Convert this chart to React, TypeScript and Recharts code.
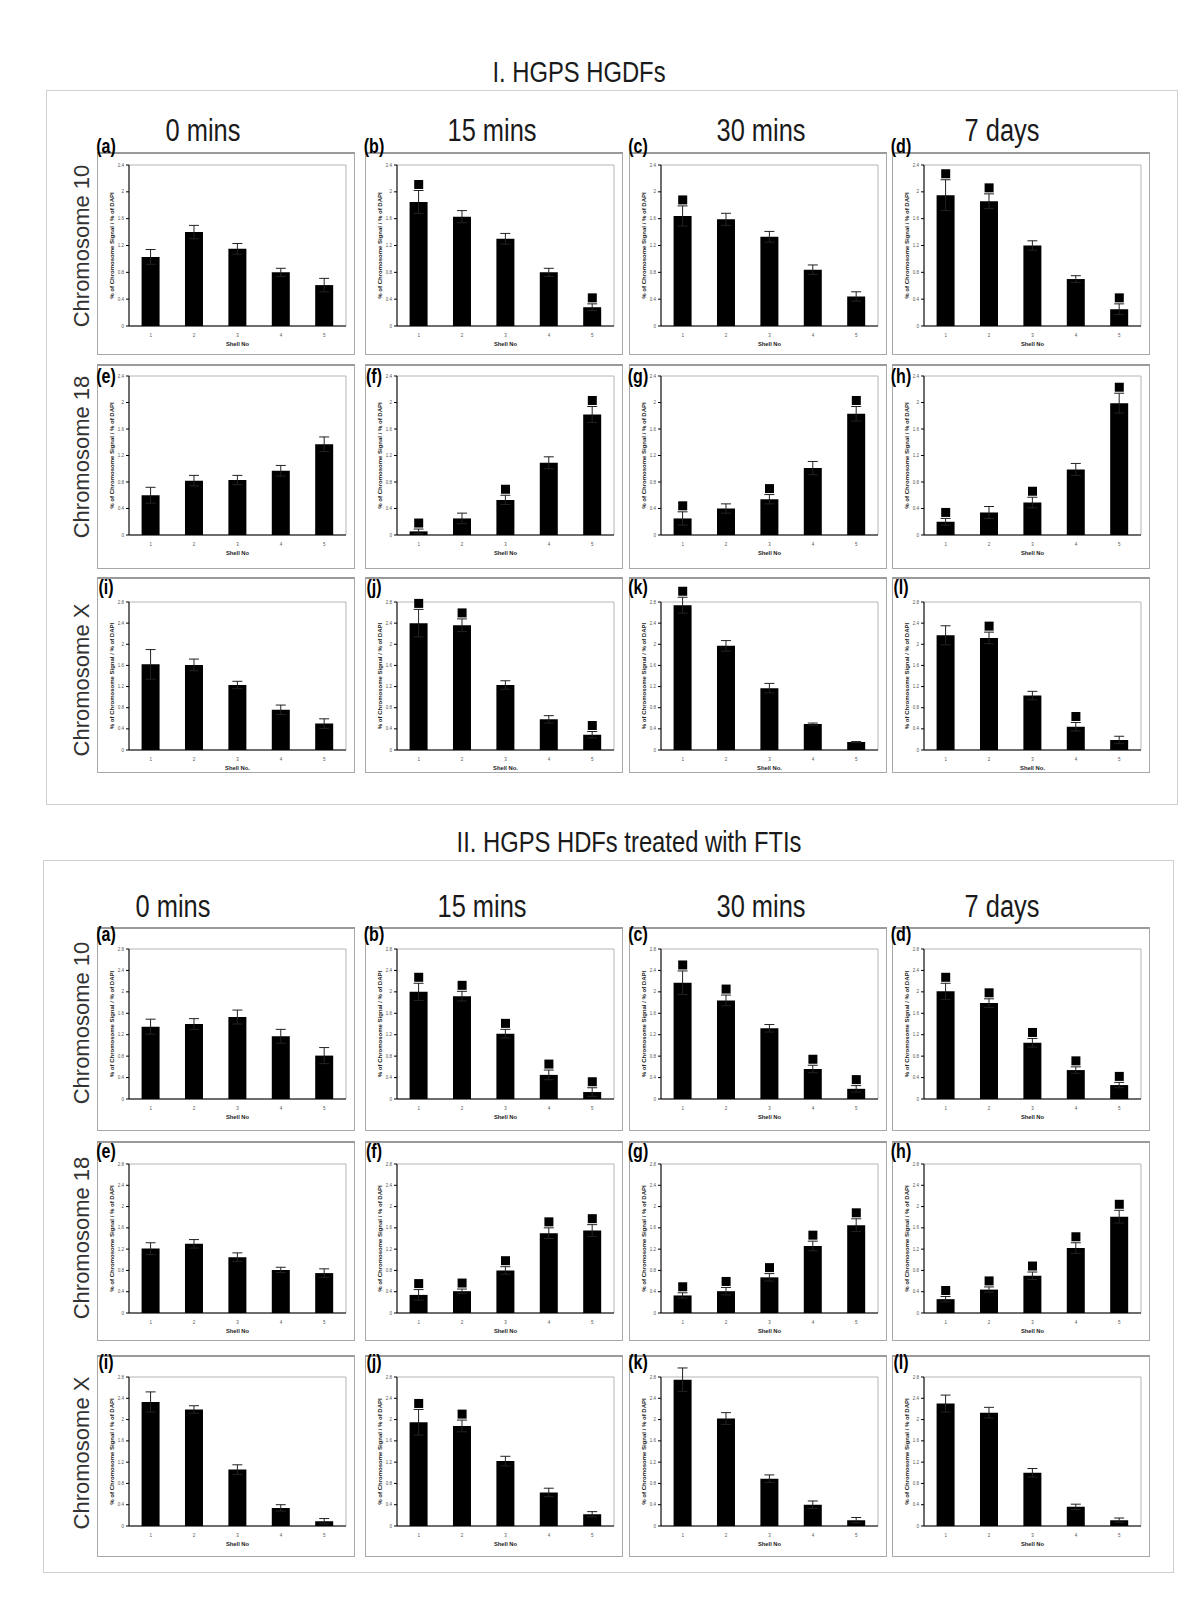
import { BarChart, Bar, XAxis, YAxis, ErrorBar, ReferenceDot, ReferenceArea } from "recharts";

const shells = ["1", "2", "3", "4", "5"];
const timepoints = ["0 mins", "15 mins", "30 mins", "7 days"];
const chromosomes = ["Chromosome 10", "Chromosome 18", "Chromosome X"];
const letters = ["(a)", "(b)", "(c)", "(d)", "(e)", "(f)", "(g)", "(h)", "(i)", "(j)", "(k)", "(l)"];
const ticks24 = [0, 0.4, 0.8, 1.2, 1.6, 2, 2.4];
const ticks28 = [0, 0.4, 0.8, 1.2, 1.6, 2, 2.4, 2.8];

// I. HGPS HGDFs — one row per time point (0, 15, 30 mins, 7 days), one value per shell
const hgdfChr10Mean = [
  [1.03, 1.4, 1.15, 0.8, 0.61],
  [1.85, 1.63, 1.3, 0.8, 0.28],
  [1.64, 1.59, 1.33, 0.84, 0.44],
  [1.95, 1.86, 1.2, 0.7, 0.25],
];
const hgdfChr10Sem = [
  [0.11, 0.1, 0.08, 0.06, 0.1],
  [0.17, 0.09, 0.08, 0.06, 0.05],
  [0.15, 0.09, 0.08, 0.07, 0.07],
  [0.23, 0.11, 0.07, 0.05, 0.08],
];
const hgdfChr10Sig = [[], [1, 5], [1], [1, 2, 5]];

const hgdfChr18Mean = [
  [0.6, 0.82, 0.83, 0.97, 1.37],
  [0.055, 0.25, 0.53, 1.09, 1.82],
  [0.25, 0.4, 0.54, 1.01, 1.83],
  [0.2, 0.34, 0.49, 0.99, 1.99],
];
const hgdfChr18Sem = [
  [0.12, 0.08, 0.07, 0.08, 0.11],
  [0.035, 0.08, 0.07, 0.09, 0.12],
  [0.1, 0.07, 0.07, 0.1, 0.11],
  [0.05, 0.09, 0.08, 0.09, 0.15],
];
const hgdfChr18Sig = [[], [1, 3, 5], [1, 3, 5], [1, 3, 5]];

const hgdfChrXMean = [
  [1.62, 1.61, 1.23, 0.76, 0.5],
  [2.4, 2.36, 1.23, 0.58, 0.29],
  [2.74, 1.97, 1.17, 0.49, 0.15],
  [2.17, 2.12, 1.03, 0.44, 0.19],
];
const hgdfChrXSem = [
  [0.28, 0.11, 0.07, 0.09, 0.09],
  [0.26, 0.12, 0.08, 0.07, 0.06],
  [0.15, 0.1, 0.09, 0.02, 0.01],
  [0.18, 0.11, 0.08, 0.08, 0.07],
];
const hgdfChrXSig = [[], [1, 2, 5], [1], [2, 4]];

// II. HGPS HDFs treated with FTIs
const ftiChr10Mean = [
  [1.35, 1.4, 1.53, 1.17, 0.81],
  [2.0, 1.92, 1.22, 0.45, 0.13],
  [2.17, 1.84, 1.32, 0.56, 0.19],
  [2.01, 1.79, 1.05, 0.54, 0.26],
];
const ftiChr10Sem = [
  [0.14, 0.1, 0.13, 0.13, 0.15],
  [0.16, 0.09, 0.08, 0.09, 0.08],
  [0.22, 0.1, 0.07, 0.07, 0.06],
  [0.15, 0.08, 0.08, 0.06, 0.05],
];
const ftiChr10Sig = [[], [1, 2, 3, 4, 5], [1, 2, 4, 5], [1, 2, 3, 4, 5]];

const ftiChr18Mean = [
  [1.21, 1.3, 1.05, 0.81, 0.75],
  [0.34, 0.41, 0.8, 1.5, 1.55],
  [0.33, 0.41, 0.67, 1.26, 1.65],
  [0.26, 0.44, 0.7, 1.22, 1.81],
];
const ftiChr18Sem = [
  [0.11, 0.08, 0.08, 0.05, 0.08],
  [0.1, 0.04, 0.07, 0.1, 0.11],
  [0.05, 0.07, 0.07, 0.09, 0.12],
  [0.05, 0.05, 0.07, 0.1, 0.12],
];
const ftiChr18Sig = [[], [1, 2, 3, 4, 5], [1, 2, 3, 4, 5], [1, 2, 3, 4, 5]];

const ftiChrXMean = [
  [2.33, 2.19, 1.06, 0.34, 0.09],
  [1.95, 1.88, 1.22, 0.63, 0.22],
  [2.75, 2.02, 0.89, 0.4, 0.11],
  [2.3, 2.13, 1.0, 0.36, 0.11],
];
const ftiChrXSem = [
  [0.19, 0.07, 0.09, 0.06, 0.05],
  [0.24, 0.11, 0.09, 0.08, 0.05],
  [0.22, 0.11, 0.07, 0.07, 0.05],
  [0.16, 0.1, 0.08, 0.05, 0.04],
];
const ftiChrXSig = [[], [1, 2], [], []];

const hgdfYMax = [2.4, 2.4, 2.8];
const ftiYMax = [2.8, 2.8, 2.8];
const hgdfXTitles = ["Shell No", "Shell No", "Shell No."];
const ftiXTitles = ["Shell No", "Shell No", "Shell No"];

// layout (px on the 1200x1605 page)
const colLeft = [97, 365, 629, 892];
const BOX_W = 258;
const AXIS_H = 21;
const FONT = "'Liberation Sans', Arial, Helvetica, sans-serif";

const hgdfRowBox = [
  { top: 152, h: 203, plotTop: 13, plotH: 161, letterDy: -6 },
  { top: 364, h: 205, plotTop: 12, plotH: 159, letterDy: 12 },
  { top: 577, h: 196, plotTop: 25, plotH: 148, letterDy: 10 },
];
const ftiRowBox = [
  { top: 927, h: 204, plotTop: 22, plotH: 150, letterDy: 7 },
  { top: 1141, h: 200, plotTop: 23, plotH: 149, letterDy: 10 },
  { top: 1355, h: 202, plotTop: 22, plotH: 149, letterDy: 7 },
];

function Txt({ x, y, size, bold = false, narrow = 1, rotate = false, color = "#1a1a1a", children }: any) {
  return (
    <div
      style={{
        position: "absolute",
        left: x,
        top: y,
        fontFamily: FONT,
        fontSize: size,
        fontWeight: bold ? 700 : 400,
        color,
        whiteSpace: "nowrap",
        lineHeight: 1,
        transform: `translate(-50%, -50%)${rotate ? " rotate(-90deg)" : ""} scaleX(${narrow})`,
      }}
    >
      {children}
    </div>
  );
}

const Square = (props: any) => {
  const { cx, cy } = props;
  if (!Number.isFinite(cx) || !Number.isFinite(cy)) return null;
  return <rect x={cx - 4.5} y={cy - 10.5} width={9} height={9} fill="#000" />;
};

function Panel({ mean, sem, sig, yMax, xTitle, height, plotTop, plotH }: any) {
  const data = shells.map((shell, i) => ({ shell, mean: mean[i], sem: sem[i] }));
  const ticks = yMax > 2.4 ? ticks28 : ticks24;
  const bottom = Math.max(0, height - plotTop - plotH - AXIS_H);
  const marked = data.filter((_, i) => sig.includes(i + 1));
  return (
    <BarChart
      width={BOX_W}
      height={height}
      data={data}
      margin={{ top: plotTop, right: 9, bottom, left: 6 }}
      barCategoryGap="29%"
      style={{ fontFamily: FONT }}
    >
      <ReferenceArea y1={0} y2={yMax} fill="none" stroke="#b5b5b5" strokeWidth={1} ifOverflow="visible" />
      <XAxis
        dataKey="shell"
        height={AXIS_H}
        tickLine={false}
        tickMargin={2}
        axisLine={{ stroke: "#000", strokeWidth: 1 }}
        tick={{ fontSize: 4.5, fill: "#555" }}
        label={{ value: xTitle, position: "insideBottom", offset: 1, fontSize: 5.8, fontWeight: 700, fill: "#222" }}
      />
      <YAxis
        domain={[0, yMax]}
        ticks={ticks}
        allowDataOverflow
        interval={0}
        width={26}
        tickSize={3}
        tickMargin={2}
        axisLine={{ stroke: "#000", strokeWidth: 1 }}
        tickLine={{ stroke: "#000" }}
        tick={{ fontSize: 4.5, fill: "#555" }}
        label={{
          value: "% of Chromosome Signal / % of DAPI",
          angle: -90,
          position: "center",
          dx: -4,
          fontSize: 6,
          fontWeight: 700,
          fill: "#222",
        }}
      />
      <Bar dataKey="mean" fill="#000" isAnimationActive={false}>
        <ErrorBar dataKey="sem" direction="y" width={5} stroke="#222" strokeWidth={1} />
      </Bar>
      {marked.map((d) => (
        <ReferenceDot key={d.shell} x={d.shell} y={d.mean + d.sem} r={4} shape={Square} ifOverflow="visible" />
      ))}
    </BarChart>
  );
}

function Section({ title, titleX, titleY, frame, headerY, headerX, rowLabelY, rowBox, panels, yMax, xTitles }: any) {
  return (
    <>
      <Txt x={titleX} y={titleY} size={29} narrow={0.82}>
        {title}
      </Txt>
      <div
        style={{
          position: "absolute",
          left: frame.left,
          top: frame.top,
          width: frame.w,
          height: frame.h,
          border: "1px solid #cfcfcf",
          boxSizing: "border-box",
        }}
      />
      {timepoints.map((t, c) => (
        <Txt key={t} x={headerX[c]} y={headerY} size={31} narrow={0.82}>
          {t}
        </Txt>
      ))}
      {chromosomes.map((chr, r) => (
        <Txt key={chr} x={82} y={rowLabelY[r]} size={22} rotate color="#333">
          {chr}
        </Txt>
      ))}
      {panels.map(([mean, sem, sig]: any, r: number) =>
        timepoints.map((_, c) => {
          const g = rowBox[r];
          return (
            <div key={`${r}-${c}`}>
              <div
                style={{
                  position: "absolute",
                  left: colLeft[c],
                  top: g.top,
                  width: BOX_W,
                  height: g.h,
                  border: "1px solid #a8a8a8",
                  borderTop: "2px solid #9a9a9a",
                  boxSizing: "border-box",
                }}
              />
              <div style={{ position: "absolute", left: colLeft[c], top: g.top }}>
                <Panel
                  mean={mean[c]}
                  sem={sem[c]}
                  sig={sig[c]}
                  yMax={yMax[r]}
                  xTitle={xTitles[r]}
                  height={g.h}
                  plotTop={g.plotTop}
                  plotH={g.plotH}
                />
              </div>
              <Txt x={colLeft[c] + 9} y={g.top + g.letterDy} size={20} bold narrow={0.8} color="#000">
                {letters[r * 4 + c]}
              </Txt>
            </div>
          );
        })
      )}
    </>
  );
}

export default function App() {
  return (
    <div style={{ position: "absolute", left: 0, top: 0, width: 1200, height: 1605, background: "#fff", overflow: "hidden" }}>
      <Section
        title="I. HGPS HGDFs"
        titleX={579}
        titleY={72}
        frame={{ left: 46, top: 90, w: 1132, h: 715 }}
        headerY={130}
        headerX={[203, 492, 761, 1002]}
        rowLabelY={[246, 457, 680]}
        rowBox={hgdfRowBox}
        yMax={hgdfYMax}
        xTitles={hgdfXTitles}
        panels={[
          [hgdfChr10Mean, hgdfChr10Sem, hgdfChr10Sig],
          [hgdfChr18Mean, hgdfChr18Sem, hgdfChr18Sig],
          [hgdfChrXMean, hgdfChrXSem, hgdfChrXSig],
        ]}
      />
      <Section
        title="II. HGPS HDFs treated with FTIs"
        titleX={629}
        titleY={842}
        frame={{ left: 43, top: 860, w: 1131, h: 713 }}
        headerY={906}
        headerX={[173, 482, 761, 1002]}
        rowLabelY={[1023, 1238, 1453]}
        rowBox={ftiRowBox}
        yMax={ftiYMax}
        xTitles={ftiXTitles}
        panels={[
          [ftiChr10Mean, ftiChr10Sem, ftiChr10Sig],
          [ftiChr18Mean, ftiChr18Sem, ftiChr18Sig],
          [ftiChrXMean, ftiChrXSem, ftiChrXSig],
        ]}
      />
    </div>
  );
}
